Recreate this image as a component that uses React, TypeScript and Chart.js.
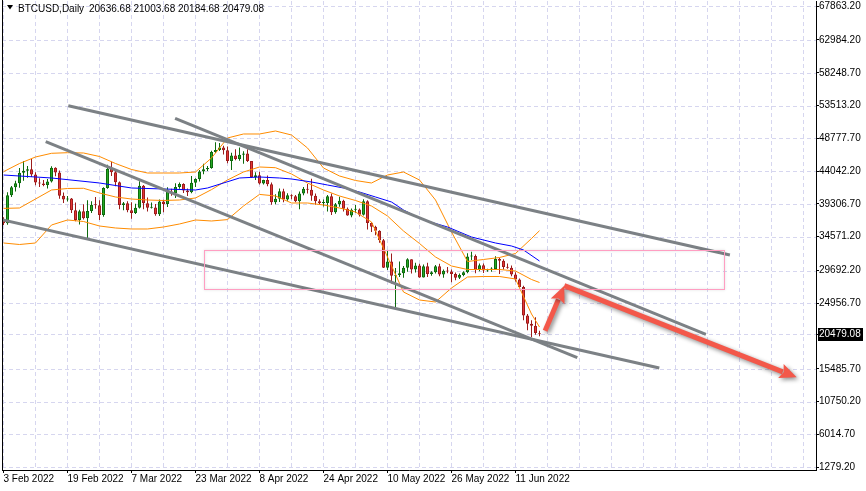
import React, { useEffect, useRef } from 'react';
import { Chart, registerables } from 'chart.js';

Chart.register(...registerables);

// ---------------- data ----------------
const xTickDays = [0, 16, 32, 48, 64, 80, 96, 112, 128];
const xTickLabels = ['3 Feb 2022', '19 Feb 2022', '7 Mar 2022', '23 Mar 2022', '8 Apr 2022', '24 Apr 2022', '10 May 2022', '26 May 2022', '11 Jun 2022'];
const yTickLabels = ['67863.20', '62984.20', '58248.70', '53513.20', '48777.70', '44042.20', '39306.70', '34571.20', '29692.20', '24956.70', '20479.08', '15485.70', '10750.20', '6014.70', '1279.20'];
const lastPriceLabel = '20479.08';
const lastPrice = 20479.08;
const headerSymbol = 'BTCUSD,Daily';
const headerValues = '20636.68 21003.68 20184.68 20479.08';

// daily candles, day 0 = 3 Feb 2022
const opens = [37000, 36500, 40570, 41700, 42300, 43800, 44100, 44300, 43550, 42400, 42250, 42050, 42550, 44550, 43850, 40500, 39950, 40100, 38400, 37000, 38250, 37250, 38300, 39200, 39100, 37700, 41600, 44400, 43900, 42450, 39150, 39400, 38400, 38000, 38750, 41950, 39400, 38750, 38800, 37800, 39650, 39300, 41100, 40900, 41750, 42200, 41250, 41000, 42350, 42900, 44000, 44300, 44500, 46800, 47100, 47450, 47050, 45500, 46300, 45800, 46400, 46600, 45500, 43150, 43450, 42250, 42750, 42150, 39550, 40050, 41150, 39950, 40550, 40400, 39700, 40800, 41500, 41350, 40500, 39700, 39450, 39450, 40400, 38100, 39250, 39750, 38600, 37650, 38450, 38500, 37750, 39700, 36550, 36000, 35450, 34050, 30100, 31000, 28950, 29050, 29300, 30100, 31300, 29850, 30400, 28700, 30300, 29200, 29450, 30300, 29100, 29650, 29550, 29200, 28650, 29050, 29450, 31700, 31800, 29800, 30450, 29700, 29850, 29900, 31350, 31100, 30200, 30100, 29100, 28400, 27300, 23200, 22000, 21700, 20636.68];
const highs = [37400, 41000, 41900, 42650, 44500, 45500, 44800, 45800, 43900, 43000, 42750, 42900, 44750, 44600, 44150, 40950, 40450, 40150, 39500, 38450, 39250, 39850, 39700, 40300, 39850, 41700, 44950, 45400, 44100, 42550, 39600, 39700, 39550, 39350, 42600, 42050, 40250, 39500, 39300, 39950, 39900, 41700, 41500, 42300, 42400, 42300, 41550, 43350, 43000, 44200, 45100, 44800, 47000, 48200, 48100, 47700, 47600, 46700, 47200, 47450, 46900, 47200, 45500, 43900, 43950, 42800, 43400, 42400, 40700, 41550, 41500, 40850, 40700, 40600, 41100, 41750, 42200, 42950, 40800, 40000, 39950, 40600, 40800, 39450, 40350, 39900, 38800, 38650, 39150, 38650, 40000, 39850, 36700, 36150, 35500, 34250, 32650, 32150, 30050, 31000, 30350, 31450, 31300, 30800, 30650, 30550, 30800, 29600, 30500, 30650, 29850, 30200, 29850, 29400, 29250, 29600, 32200, 32400, 32000, 30700, 30700, 29950, 30150, 31750, 31550, 31300, 30700, 30400, 29450, 28550, 27500, 23400, 22500, 22950, 21003.68];
const lows = [36250, 36300, 40300, 41100, 41650, 42650, 43100, 43200, 42000, 41750, 41850, 41550, 42400, 43300, 40050, 39450, 39650, 38000, 36800, 36350, 37050, 34300, 38000, 38600, 37000, 37450, 41500, 43350, 41850, 38550, 38400, 38100, 37150, 37850, 38650, 38550, 38200, 38650, 37600, 37550, 38100, 38850, 40500, 40150, 41500, 40900, 40450, 40850, 41750, 42550, 43600, 44050, 44400, 46650, 46950, 46450, 45200, 44200, 45600, 45550, 45100, 45350, 43100, 42750, 42100, 42100, 41850, 39200, 39250, 39600, 39550, 39750, 40000, 39550, 38550, 40550, 40800, 39750, 39200, 39300, 38950, 38200, 37700, 37900, 38900, 38200, 37600, 37400, 38050, 37500, 37650, 35600, 35250, 34800, 33700, 30050, 29750, 27800, 24350, 28750, 28650, 29500, 29250, 29400, 28650, 28700, 28750, 28950, 29250, 28850, 28650, 29300, 28000, 28300, 28450, 28850, 29300, 31200, 29300, 29600, 29350, 29500, 29500, 29900, 29200, 29850, 29950, 28850, 28100, 27300, 22500, 21050, 20100, 20400, 20184.68];
const closes = [36500, 40570, 41700, 42300, 43800, 44100, 44300, 43550, 42400, 42250, 42050, 42550, 44550, 43850, 40500, 39950, 40100, 38400, 37000, 38250, 37250, 38300, 39200, 39100, 37700, 41600, 44400, 43900, 42450, 39150, 39400, 38400, 38000, 38750, 41950, 39400, 38750, 38800, 37800, 39650, 39300, 41100, 40900, 41750, 42200, 41250, 41000, 42350, 42900, 44000, 44300, 44500, 46800, 47100, 47450, 47050, 45500, 46300, 45800, 46400, 46600, 45500, 43150, 43450, 42250, 42750, 42150, 39550, 40050, 41150, 39950, 40550, 40400, 39700, 40800, 41500, 41350, 40500, 39700, 39450, 39450, 40400, 38100, 39250, 39750, 38600, 37650, 38450, 38500, 37750, 39700, 36550, 36000, 35450, 34050, 30100, 31000, 28950, 29050, 29300, 30100, 31300, 29850, 30400, 28700, 30300, 29200, 29450, 30300, 29100, 29650, 29550, 29200, 28650, 29050, 29450, 31700, 31800, 29800, 30450, 29700, 29850, 29900, 31350, 31100, 30200, 30100, 29100, 28400, 27300, 23200, 22000, 21700, 20650, 20479.08];

// Bollinger bands (orange), read every 4 days
const bbDays = [0, 4, 8, 12, 16, 20, 24, 28, 32, 36, 40, 44, 48, 52, 56, 60, 64, 68, 72, 76, 80, 84, 88, 92, 96, 100, 104, 108, 112, 116, 120, 124, 128, 132, 134];
const bbUpper = [43962, 45146, 46085, 46619, 46706, 46663, 46157, 45146, 44280, 43774, 43774, 43774, 43919, 45941, 48829, 49407, 49407, 49840, 49262, 47385, 44496, 43341, 42691, 42330, 43485, 43919, 42763, 39875, 35254, 30993, 31282, 31571, 32149, 34315, 35441];
const bbMiddle = [38662, 38720, 40019, 41319, 41536, 41565, 40886, 40308, 40019, 39875, 39803, 39875, 40164, 41377, 42763, 43919, 44641, 44540, 43630, 42330, 41319, 40453, 39803, 39008, 37564, 35398, 33593, 31643, 30343, 29838, 29838, 29838, 29621, 28394, 27960];
const bbLower = [33665, 33448, 33665, 36264, 36987, 36770, 36120, 35831, 35687, 35687, 35976, 36409, 36987, 36842, 37044, 39008, 40684, 40453, 39442, 39442, 39153, 38720, 38142, 36698, 31643, 26588, 25433, 25144, 27166, 28755, 28827, 28827, 28466, 23411, 21534];

// moving average (blue)
const maDays = [0, 12, 24, 32, 48, 51, 59, 64, 69, 72, 77, 81, 85, 89, 93, 97, 100, 105, 111, 117, 123, 127, 130, 134];
const maValues = [43485, 43052, 42330, 41608, 41319, 41608, 43052, 43197, 43052, 42908, 42475, 42041, 41608, 41030, 40308, 39586, 38431, 36987, 35976, 34531, 33665, 33232, 32654, 31065];

// trend lines (grey)
const trendStartDays = [16.2, 42.9, 10.55, -1];
const trendStartPrices = [53494, 51674, 48295, 37104];
const trendEndDays = [181.6, 175.6, 143.45, 163.95];
const trendEndPrices = [31932, 20479, 17099, 15612];

// pink zone
const zoneDays = [50, 180];
const zonePrices = [32582, 27093];

// red arrows path: start, turning tip, final tip
const arrowDays = [135.4, 140.2, 198.3];
const arrowPrices = [20999, 27498, 14269];

// ---------------- styling ----------------
const FONT = "'Liberation Sans', Arial, sans-serif";
const GRID = '#d6d6ef';
const UP_FILL = '#25a925';
const UP_EDGE = '#0d6a0d';
const DN_FILL = '#e53636';
const DN_EDGE = '#9c1c1c';
const GRID_STEP_DAYS = 8;

const bgPlugin = {
  id: 'bgGrid',
  beforeDraw(chart: any) {
    const { ctx, width, height } = chart;
    ctx.save();
    ctx.fillStyle = '#ffffff';
    ctx.fillRect(0, 0, width, height);
    ctx.restore();
  },
  beforeDatasetsDraw(chart: any) {
    const { ctx, chartArea, scales } = chart;
    const { left, right, top, bottom } = chartArea;
    const xs = scales.x, ys = scales.y;
    ctx.save();
    ctx.strokeStyle = GRID;
    ctx.lineWidth = 1;
    ctx.setLineDash([4, 3]);
    for (let d = 0; ; d += GRID_STEP_DAYS) {
      const px = Math.floor(xs.getPixelForValue(d)) + 0.5;
      if (px > right) break;
      ctx.beginPath();
      ctx.moveTo(px, top);
      ctx.lineTo(px, bottom);
      ctx.stroke();
    }
    yTickLabels.forEach((t) => {
      const py = Math.round(ys.getPixelForValue(parseFloat(t))) + 0.5;
      if (py < top || py > bottom) return;
      ctx.beginPath();
      ctx.moveTo(left, py);
      ctx.lineTo(right, py);
      ctx.stroke();
    });
    ctx.restore();
  },
};

function drawArrow(ctx: CanvasRenderingContext2D, x0: number, y0: number, x1: number, y1: number) {
  const dx = x1 - x0, dy = y1 - y0;
  const len = Math.hypot(dx, dy);
  const ux = dx / len, uy = dy / len;
  const headLen = 17, headHalf = 7.5;
  const bx = x1 - ux * headLen, by = y1 - uy * headLen;
  ctx.beginPath();
  ctx.moveTo(x0, y0);
  ctx.lineTo(bx + ux * 2, by + uy * 2);
  ctx.stroke();
  ctx.beginPath();
  ctx.moveTo(x1, y1);
  ctx.lineTo(bx - uy * headHalf, by + ux * headHalf);
  ctx.lineTo(bx + ux * 3, by + uy * 3);
  ctx.lineTo(bx + uy * headHalf, by - ux * headHalf);
  ctx.closePath();
  ctx.fill();
}

const overlayPlugin = {
  id: 'overlay',
  afterDatasetsDraw(chart: any) {
    const { ctx, scales } = chart;
    const xs = scales.x, ys = scales.y;
    const l = Math.round(xs.getPixelForValue(zoneDays[0])) + 0.5;
    const r = Math.round(xs.getPixelForValue(zoneDays[1])) + 0.5;
    const t = Math.round(ys.getPixelForValue(zonePrices[0])) + 0.5;
    const b = Math.round(ys.getPixelForValue(zonePrices[1])) + 0.5;
    ctx.save();
    ctx.shadowColor = 'rgba(0,0,0,0.18)';
    ctx.shadowBlur = 3;
    ctx.strokeStyle = '#ff9ec2';
    ctx.lineWidth = 1;
    ctx.strokeRect(l, t, r - l, b - t);
    ctx.restore();

    const pts = arrowDays.map((d, i) => ({ x: xs.getPixelForValue(d), y: ys.getPixelForValue(arrowPrices[i]) }));
    ctx.save();
    ctx.shadowColor = 'rgba(0,0,0,0.45)';
    ctx.shadowBlur = 4;
    ctx.shadowOffsetX = 2;
    ctx.shadowOffsetY = 2;
    ctx.strokeStyle = '#f3584a';
    ctx.fillStyle = '#f3584a';
    ctx.lineWidth = 5;
    ctx.lineCap = 'butt';
    drawArrow(ctx, pts[0].x, pts[0].y, pts[1].x, pts[1].y);
    drawArrow(ctx, pts[1].x, pts[1].y, pts[2].x, pts[2].y);
    ctx.restore();
  },
  afterDraw(chart: any) {
    const { ctx, chartArea, scales } = chart;
    const ys = scales.y;
    ctx.save();
    ctx.strokeStyle = '#000';
    ctx.lineWidth = 1;
    ctx.beginPath();
    ctx.moveTo(chartArea.left + 0.5, 0);
    ctx.lineTo(chartArea.left + 0.5, chartArea.bottom);
    ctx.stroke();
    ctx.fillStyle = '#000';
    ctx.beginPath();
    ctx.moveTo(7, 5);
    ctx.lineTo(13, 5);
    ctx.lineTo(10, 9.5);
    ctx.closePath();
    ctx.fill();
    ctx.font = `10px ${FONT}`;
    ctx.textBaseline = 'alphabetic';
    ctx.textAlign = 'left';
    ctx.fillText(headerSymbol, 18, 12);
    ctx.fillText(headerValues, 89, 12);
    const py = Math.round(ys.getPixelForValue(lastPrice));
    ctx.fillStyle = '#000';
    ctx.fillRect(chartArea.right + 2, py - 6, 45, 13);
    ctx.fillStyle = '#fff';
    ctx.textBaseline = 'middle';
    ctx.fillText(lastPriceLabel, chartArea.right + 3, py + 0.5);
    ctx.restore();
  },
};

export default function App() {
  const ref = useRef<HTMLCanvasElement>(null);
  useEffect(() => {
    document.body.style.margin = '0';
    document.body.style.background = '#fff';
    const canvas = ref.current;
    if (!canvas) return;
    const up = closes.map((c, i) => c >= opens[i]);
    const line = (xsArr: number[], ysArr: number[], color: string, width: number, order: number) => ({
      type: 'line' as const,
      data: xsArr.map((d, i) => ({ x: d, y: ysArr[i] })),
      borderColor: color,
      backgroundColor: color,
      borderWidth: width,
      pointRadius: 0,
      tension: 0,
      fill: false,
      clip: 0,
      order,
    });
    const trendSets = trendStartDays.map((d, i) =>
      line([d, trendEndDays[i]], [trendStartPrices[i], trendEndPrices[i]], '#7c8185', 3, 2)
    );
    const chart = new Chart(canvas, {
      type: 'bar',
      data: {
        datasets: [
          {
            type: 'bar',
            data: opens.map((_, i) => ({ x: i, y: [lows[i], highs[i]] })) as any,
            backgroundColor: up.map((u) => (u ? UP_EDGE : DN_EDGE)),
            borderWidth: 0,
            barThickness: 1,
            maxBarThickness: 1,
            grouped: false,
            inflateAmount: 0,
            order: 10,
          } as any,
          {
            type: 'bar',
            data: opens.map((o, i) => ({ x: i, y: [o, closes[i]] })) as any,
            backgroundColor: up.map((u) => (u ? UP_FILL : DN_FILL)),
            borderColor: up.map((u) => (u ? UP_EDGE : DN_EDGE)),
            borderWidth: 1,
            borderSkipped: false,
            barThickness: 3,
            maxBarThickness: 3,
            minBarLength: 1,
            grouped: false,
            inflateAmount: 0,
            order: 9,
          } as any,
          line(bbDays, bbUpper, '#ff8c00', 1, 5),
          line(bbDays, bbMiddle, '#ff8c00', 1, 5),
          line(bbDays, bbLower, '#ff8c00', 1, 5),
          line(maDays, maValues, '#0000ff', 1, 4),
          ...trendSets,
        ] as any,
      },
      options: {
        animation: false,
        responsive: false,
        events: [],
        layout: { padding: { left: 2, top: 1, right: 0, bottom: 0 }, autoPadding: false },
        plugins: { legend: { display: false }, tooltip: { enabled: false } },
        scales: {
          x: {
            type: 'linear',
            position: 'bottom',
            min: -0.375,
            max: 203.125,
            offset: false,
            afterBuildTicks: (s: any) => {
              s.ticks = xTickDays.map((v) => ({ value: v }));
            },
            afterFit: (s: any) => {
              s.height = 21;
              s.paddingLeft = 0;
              s.paddingRight = 0;
            },
            ticks: {
              autoSkip: false,
              maxRotation: 0,
              minRotation: 0,
              align: 'start',
              padding: 0,
              color: '#000',
              font: { family: FONT, size: 10 },
              callback: (_v: any, i: number) => xTickLabels[i],
            },
            grid: { drawOnChartArea: false, drawTicks: true, tickLength: 3, tickColor: '#000', tickWidth: 1, offset: false },
            border: { display: true, color: '#000', width: 1 },
          },
          y: {
            type: 'linear',
            position: 'right',
            min: 881.3,
            max: 68614.3,
            afterBuildTicks: (s: any) => {
              s.ticks = yTickLabels.map((t) => ({ value: parseFloat(t) }));
            },
            afterFit: (s: any) => {
              s.width = 50;
              s.paddingTop = 0;
              s.paddingBottom = 0;
            },
            ticks: {
              autoSkip: false,
              padding: 0,
              color: '#000',
              font: { family: FONT, size: 10 },
              callback: (_v: any, i: number) => (yTickLabels[i] === lastPriceLabel ? '' : yTickLabels[i]),
            },
            grid: { drawOnChartArea: false, drawTicks: true, tickLength: 3, tickColor: '#000', tickWidth: 1 },
            border: { display: true, color: '#000', width: 1 },
          },
        },
      } as any,
      plugins: [bgPlugin, overlayPlugin],
    });
    return () => chart.destroy();
  }, []);
  return (
    <div style={{ width: 866, height: 491, background: '#fff' }}>
      <canvas ref={ref} width={866} height={491} style={{ display: 'block' }} />
    </div>
  );
}
